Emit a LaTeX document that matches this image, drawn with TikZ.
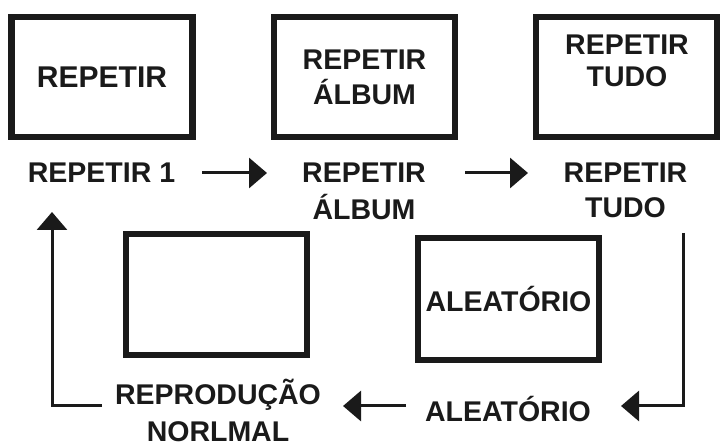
\documentclass[tikz,border=0pt]{standalone}
\usepackage{fontspec}
\setmainfont{Liberation Sans}
\usetikzlibrary{arrows.meta}
\definecolor{ink}{HTML}{1A1A1A}
\begin{document}
\begin{tikzpicture}[x=1pt,y=-1pt,
  box/.style={draw=ink,line width=6.5pt,minimum width=181pt,minimum height=120pt,inner sep=0pt,
    font=\bfseries\fontsize{28.5}{35}\selectfont,align=center,text=ink},
  lbl/.style={font=\bfseries\fontsize{28.5}{36}\selectfont,align=center,inner sep=0pt,anchor=base,text=ink},
  arr/.style={draw=ink,line width=3pt,-{Triangle[length=18pt,width=30pt]}},
  ln/.style={draw=ink,line width=3pt}]
\fill[white] (0,0) rectangle (726,446);
\useasboundingbox (0,0) rectangle (726,446);
% boxes
\node[box,font=\bfseries\fontsize{30}{35}\selectfont] (b1) at (102,77) {REPETIR};
\node[box] (b2) at (364.5,77) {REPETIR\\ÁLBUM};
\node[box] (b3) at (626.5,77) {};
\node[lbl] (b3t) at (627,87) {REPETIR\\[-4pt]TUDO};
\node[box,minimum height=121pt] (b4) at (216.5,294.5) {};
\node[box,minimum height=122pt] (b5) at (508.5,299) {ALEATÓRIO};
% labels (base = baseline of last line)
\node[lbl] (l1) at (101.5,183) {REPETIR 1};
\node[lbl] (l2) at (364,220) {REPETIR\\[1pt]ÁLBUM};
\node[lbl] (l3) at (625.5,218) {REPETIR\\[-1pt]TUDO};
\node[lbl] (l4) at (508,421) {ALEATÓRIO};
\node[lbl] (l5) at (218,441) {REPRODUÇÃO\\[1pt]NORLMAL};
% connector points
\coordinate (a1s) at (202,173);
\coordinate (a1e) at (267,173);
\coordinate (a2s) at (465,173);
\coordinate (a2e) at (528,173);
\coordinate (a3s) at (683,233);
\coordinate (a3e) at (621,406);
\coordinate (a4s) at (406,406);
\coordinate (a4e) at (343,406);
\coordinate (a5s) at (102,406);
\coordinate (a5e) at (52,212);
% connectors
\draw[arr] (a1s) -- (a1e);
\draw[arr] (a2s) -- (a2e);
\draw[arr] (a3s) |- (a3e);
\draw[arr] (a4s) -- (a4e);
\draw[arr] (a5s) -| (a5e);
\end{tikzpicture}
\end{document}
